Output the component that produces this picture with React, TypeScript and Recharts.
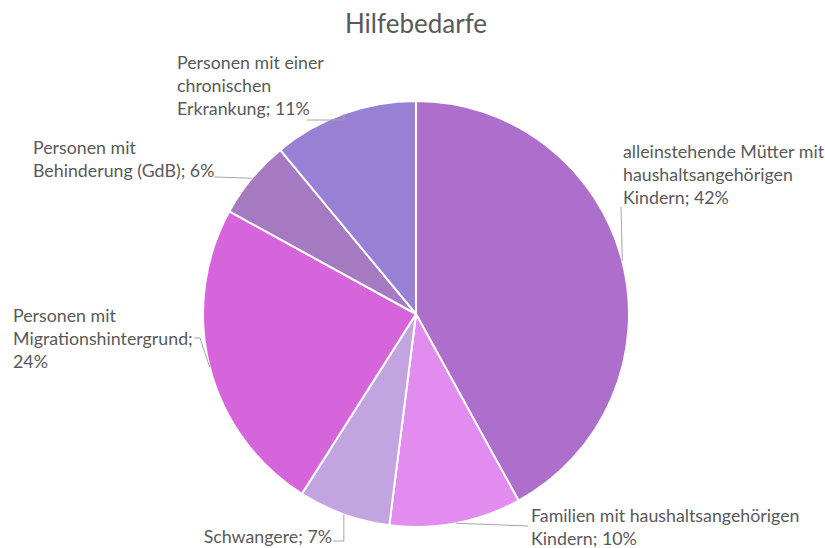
import React from 'react';
import { PieChart, Pie, Cell } from 'recharts';

const categories = [
  'alleinstehende Mütter mit haushaltsangehörigen Kindern',
  'Familien mit haushaltsangehörigen Kindern',
  'Schwangere',
  'Personen mit Migrationshintergrund',
  'Personen mit Behinderung (GdB)',
  'Personen mit einer chronischen Erkrankung',
];
const shares = [42, 10, 7, 24, 6, 11];
const labelLines = [
  ['alleinstehende Mütter mit', 'haushaltsangehörigen', 'Kindern; 42%'],
  ['Familien mit haushaltsangehörigen', 'Kindern; 10%'],
  ['Schwangere; 7%'],
  ['Personen mit', 'Migrationshintergrund;', '24%'],
  ['Personen mit', 'Behinderung (GdB); 6%'],
  ['Personen mit einer', 'chronischen', 'Erkrankung; 11%'],
];
const colors = ['#AD6FCB', '#E28CF0', '#C1A4E0', '#D665DB', '#A67AC0', '#9880D4'];

// label placement, relative to pie centre
const labelLayout = [
  { x: 207, y: -156, anchor: 'start', from: [205, -107], elbow: false },
  { x: 115, y: 208, anchor: 'start', from: [112, 212], elbow: false },
  { x: -84, y: 229, anchor: 'end', from: [-83, 227], elbow: true },
  { x: -403, y: 8, anchor: 'start', from: [-222, 24], elbow: false, kink: [-216, 24] },
  { x: -383, y: -160, anchor: 'start', from: [-202, -137], elbow: false },
  { x: -239, y: -245, anchor: 'start', from: [-109, -194], elbow: true },
];

const data = categories.map((name, i) => ({ name, value: shares[i] }));

const FONT = 'Lato, "Open Sans", sans-serif';
const RAD = Math.PI / 180;

const renderLabel = (props: any) => {
  const { cx, cy, midAngle, outerRadius, index } = props;
  const lay = labelLayout[index];
  const ax = cx + outerRadius * Math.cos(-midAngle * RAD);
  const ay = cy + outerRadius * Math.sin(-midAngle * RAD);
  const fx = cx + lay.from[0];
  const fy = cy + lay.from[1];
  let pts = `${fx},${fy} `;
  if (lay.kink) pts += `${cx + lay.kink[0]},${cy + lay.kink[1]} `;
  if (lay.elbow) pts += `${ax},${fy} `;
  pts += `${ax},${ay}`;
  return (
    <g key={`lbl-${index}`}>
      <polyline points={pts} fill="none" stroke="#A6A6A6" strokeWidth={1} />
      <text
        x={cx + lay.x}
        y={cy + lay.y}
        textAnchor={lay.anchor}
        fill="#595959"
        fontSize={17.8}
        fontFamily={FONT}
      >
        {labelLines[index].map((line, j) => (
          <tspan key={j} x={cx + lay.x} dy={j === 0 ? 0 : 23}>
            {line}
          </tspan>
        ))}
      </text>
    </g>
  );
};

export default function App() {
  return (
    <div style={{ position: 'absolute', left: 0, top: 0, width: 825, height: 548, background: '#fff' }}>
      <div
        style={{
          position: 'absolute',
          left: 0,
          top: 7,
          width: 832,
          textAlign: 'center',
          fontFamily: FONT,
          fontSize: 26,
          color: '#595959',
        }}
      >
        Hilfebedarfe
      </div>
      <PieChart width={825} height={548} margin={{ top: 0, right: 0, bottom: 0, left: 0 }}>
        <Pie
          data={data}
          dataKey="value"
          nameKey="name"
          cx={416}
          cy={314}
          outerRadius={213}
          startAngle={90}
          endAngle={-270}
          stroke="#fff"
          strokeWidth={2}
          label={renderLabel}
          labelLine={false}
          isAnimationActive={false}
        >
          {data.map((d, i) => (
            <Cell key={d.name} fill={colors[i]} />
          ))}
        </Pie>
      </PieChart>
    </div>
  );
}
